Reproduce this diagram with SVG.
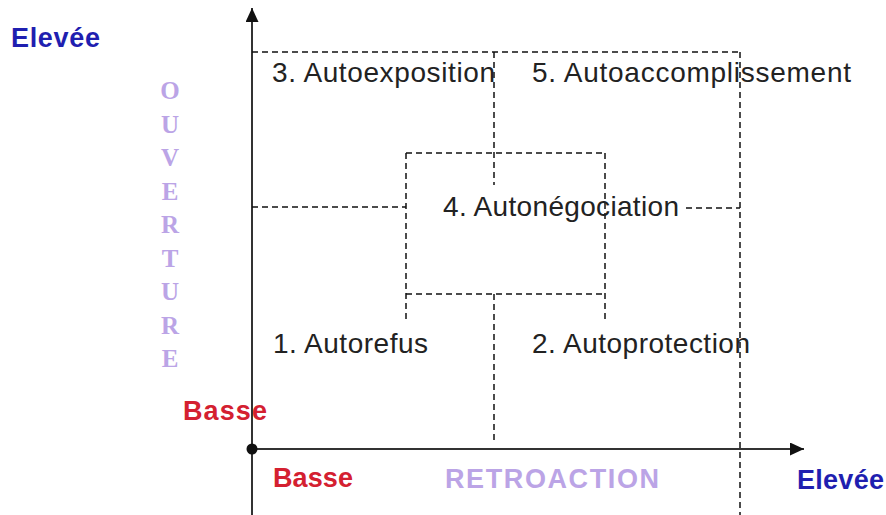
<svg xmlns="http://www.w3.org/2000/svg" width="886" height="515" viewBox="0 0 886 515">
<defs>
<marker id="arr" markerUnits="userSpaceOnUse" markerWidth="15" markerHeight="14" refX="14" refY="6.5" orient="auto">
<path d="M0,0 L14,6.5 L0,13 z" fill="#111"/>
</marker>
<style>
.axis{stroke:#333;stroke-width:2;fill:none}
.dash{stroke:#111;stroke-width:1.5;stroke-dasharray:6 4;fill:none}
.lbl{font-family:"Liberation Sans",Arial,sans-serif;font-size:28px;fill:#222}
.blue{font-family:"Liberation Sans",Arial,sans-serif;font-size:27px;font-weight:bold;fill:#1f1fb0}
.red{font-family:"Liberation Sans",Arial,sans-serif;font-size:27px;font-weight:bold;fill:#d42030}
.purple{font-family:"Liberation Sans",Arial,sans-serif;font-size:27px;font-weight:bold;fill:#bba4e6}
.vert{font-family:"Liberation Serif","Times New Roman",serif;font-size:25px;font-weight:bold;fill:#bba4e6}
</style>
</defs>
<rect width="886" height="515" fill="#fff"/>
<g id="connectors">
<line class="axis" x1="252" y1="515" x2="252" y2="8" marker-end="url(#arr)"/>
<line class="axis" x1="252" y1="449" x2="804" y2="449" marker-end="url(#arr)"/>
<circle cx="252" cy="449" r="5.5" fill="#111"/>
<line class="dash" x1="252" y1="52" x2="740" y2="52"/>
<line class="dash" x1="740" y1="52" x2="740" y2="515"/>
<line class="dash" x1="494" y1="52" x2="494" y2="185"/>
<line class="dash" x1="252" y1="207" x2="406" y2="207"/>
<line class="dash" x1="406" y1="153" x2="605" y2="153"/>
<line class="dash" x1="406" y1="153" x2="406" y2="323"/>
<line class="dash" x1="605" y1="153" x2="605" y2="323"/>
<line class="dash" x1="406" y1="294" x2="605" y2="294"/>
<line class="dash" x1="494" y1="294" x2="494" y2="443"/>
<line class="dash" x1="686" y1="208" x2="740" y2="208"/>
</g>
<g id="n3"><text class="lbl" x="272" y="82" textLength="223" lengthAdjust="spacing">3. Autoexposition</text></g>
<g id="n5"><text class="lbl" x="532" y="82" textLength="319" lengthAdjust="spacing">5. Autoaccomplissement</text></g>
<g id="n4"><text class="lbl" x="443" y="216" textLength="236" lengthAdjust="spacing">4. Autonégociation</text></g>
<g id="n1"><text class="lbl" x="273" y="353" textLength="155" lengthAdjust="spacing">1. Autorefus</text></g>
<g id="n2"><text class="lbl" x="532" y="353" textLength="218" lengthAdjust="spacing">2. Autoprotection</text></g>
<g id="y-high"><text class="blue" x="11" y="47" textLength="89" lengthAdjust="spacing">Elevée</text></g>
<g id="x-high"><text class="blue" x="797" y="489" textLength="87" lengthAdjust="spacing">Elevée</text></g>
<g id="y-low"><text class="red" x="183" y="420" textLength="84" lengthAdjust="spacing">Basse</text></g>
<g id="x-low"><text class="red" x="273" y="487" textLength="80" lengthAdjust="spacing">Basse</text></g>
<g id="x-title"><text class="purple" x="445" y="488" textLength="214" lengthAdjust="spacing">RETROACTION</text></g>
<g id="y-title">
<text class="vert" text-anchor="middle" x="170" y="99">O</text>
<text class="vert" text-anchor="middle" x="170" y="133">U</text>
<text class="vert" text-anchor="middle" x="170" y="166">V</text>
<text class="vert" text-anchor="middle" x="170" y="200">E</text>
<text class="vert" text-anchor="middle" x="170" y="233">R</text>
<text class="vert" text-anchor="middle" x="170" y="267">T</text>
<text class="vert" text-anchor="middle" x="170" y="300">U</text>
<text class="vert" text-anchor="middle" x="170" y="334">R</text>
<text class="vert" text-anchor="middle" x="170" y="367">E</text>
</g>
</svg>
